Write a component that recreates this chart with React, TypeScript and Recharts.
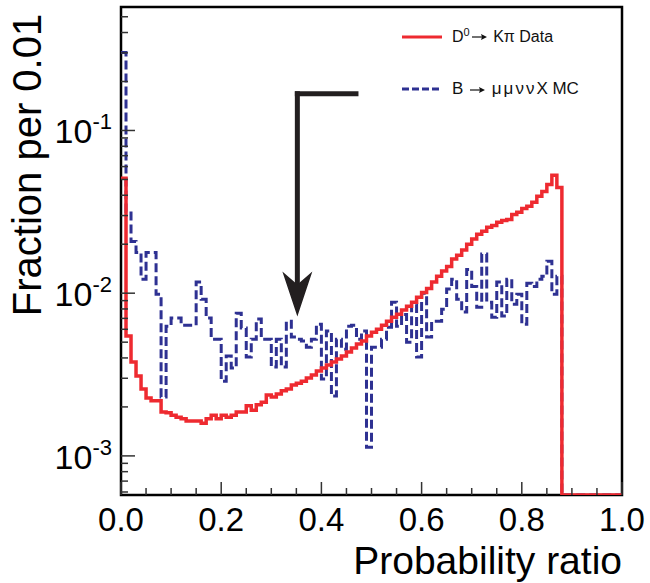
import {
  LineChart,
  Line,
  XAxis,
  YAxis,
  ReferenceArea,
  ReferenceLine,
  ReferenceDot,
  Legend,
  Label,
} from "recharts";

const FONT = "'Liberation Sans', Arial, Helvetica, sans-serif";
const RED = "#ee2a30";
const BLUE = "#2e3192";
const INK = "#231f20";

const BIN_WIDTH = 0.01;

// D0 -> K pi data, fraction per 0.01 bin (bins start at 0.00, 0.01, ... 0.99)
const kpiData = [
  0.0508, 0.00545, 0.00377, 0.0031, 0.00258, 0.00227, 0.00218, 0.00218, 0.00186, 0.00184,
  0.00178, 0.00173, 0.00169, 0.00164, 0.00164, 0.00164, 0.00159, 0.00169, 0.00178, 0.00169,
  0.00178, 0.00173, 0.00178, 0.00186, 0.00186, 0.00203, 0.00191, 0.00206, 0.00214, 0.00237,
  0.0023, 0.0024, 0.00251, 0.00258, 0.00273, 0.0028, 0.00288, 0.00301, 0.00314, 0.00332,
  0.00347, 0.00362, 0.00377, 0.00394, 0.00411, 0.00435, 0.0046, 0.00487, 0.00508, 0.00545,
  0.00576, 0.00601, 0.00636, 0.00673, 0.00712, 0.00743, 0.00787, 0.00832, 0.00881, 0.00945,
  0.0101, 0.0107, 0.0117, 0.0127, 0.0137, 0.0146, 0.0162, 0.0171, 0.0184, 0.02,
  0.0215, 0.023, 0.024, 0.0254, 0.0261, 0.0273, 0.028, 0.0284, 0.0305, 0.0314,
  0.0332, 0.0342, 0.0362, 0.0394, 0.0422, 0.0466, 0.053, 0.0447, 0, 0,
  0, 0, 0, 0, 0, 0, 0, 0, 0, 0,
];

// B -> mu mu nu nu X MC
const mcData = [
  0.301, 0.0318, 0.0208, 0.0178, 0.0122, 0.0178, 0.0178, 0.00986, 0.0023, 0.00627,
  0.00703, 0.00703, 0.00636, 0.00636, 0.00636, 0.0117, 0.00919, 0.00703, 0.00522, 0.00522,
  0.00288, 0.00411, 0.00347, 0.00754, 0.0061, 0.00405, 0.00522, 0.00693, 0.00522, 0.00522,
  0.00352, 0.00522, 0.00352, 0.00673, 0.00537, 0.00522, 0.00508, 0.00466, 0.00522, 0.00645,
  0.00297, 0.00585, 0.00233, 0.00522, 0.00453, 0.00627, 0.00636, 0.00522, 0.00585, 0.00113,
  0.00466, 0.00466, 0.00522, 0.00618, 0.00881, 0.00627, 0.0074, 0.005, 0.00856, 0.00405,
  0.01, 0.00537, 0.00673, 0.00673, 0.00798, 0.0106, 0.0122, 0.00919, 0.00765, 0.014,
  0.011, 0.0082, 0.0174, 0.00881, 0.00712, 0.0117, 0.00723, 0.0122, 0.00856, 0.00986,
  0.00645, 0.0115, 0.011, 0.0122, 0.0127, 0.0157, 0.00986, 0.0127, 0, 0,
  0, 0, 0, 0, 0, 0, 0, 0, 0, 0,
];

const xTicks = [
  0, 0.05, 0.1, 0.15, 0.2, 0.25, 0.3, 0.35, 0.4, 0.45, 0.5,
  0.55, 0.6, 0.65, 0.7, 0.75, 0.8, 0.85, 0.9, 0.95, 1,
];
const xMajor = [0, 0.2, 0.4, 0.6, 0.8, 1];

const yTicks = [
  0.0006, 0.0007, 0.0008, 0.0009, 0.001, 0.002, 0.003, 0.004, 0.005, 0.006, 0.007, 0.008, 0.009,
  0.01, 0.02, 0.03, 0.04, 0.05, 0.06, 0.07, 0.08, 0.09, 0.1, 0.2, 0.3, 0.4, 0.5,
];
const yMajor = [0.001, 0.01, 0.1];

const Y_MIN = 0.000575;
const Y_MAX = 0.574;

// cut arrow
const cutX = 0.352;
const cutEndX = 0.469;
const cutTop = 0.168;
const cutShaftEnd = 0.0115;
const cutTip = 0.0072;

const table = kpiData.map((v, i) => ({
  x: +(i * BIN_WIDTH).toFixed(2),
  kpi: v > 0 ? v : Y_MIN,
  mc: mcData[i] > 0 ? mcData[i] : Y_MIN,
}));
table.push({ x: 1, kpi: table[table.length - 1].kpi, mc: table[table.length - 1].mc });

const XTick = (props: any) => {
  const { x, y, payload } = props;
  const v = payload.value;
  const major = xMajor.some((m) => Math.abs(m - v) < 1e-6);
  return (
    <g>
      <line x1={x} x2={x} y1={y} y2={y - (major ? 13 : 7)} stroke="#333" strokeWidth={1.5} />
      {major && (
        <text x={x} y={y + 36} textAnchor="middle" fontSize={33} fontFamily={FONT} fill="#000">
          {v.toFixed(1)}
        </text>
      )}
    </g>
  );
};

const YTick = (props: any) => {
  const { x, y, payload } = props;
  const v = payload.value;
  const major = yMajor.some((m) => Math.abs(m - v) / m < 1e-6);
  const exp = Math.round(Math.log10(v));
  return (
    <g>
      <line x1={x} x2={x + (major ? 14 : 7)} y1={y} y2={y} stroke="#333" strokeWidth={1.5} />
      {major && (
        <text x={x - 9} y={y + 13} textAnchor="end" fontSize={34} fontFamily={FONT} fill="#000">
          10
          <tspan dy={-14} fontSize={22}>
            {exp}
          </tspan>
        </text>
      )}
    </g>
  );
};

const XTitle = (props: any) => {
  const vb = props.viewBox || { x: 121, y: 495, width: 501 };
  return (
    <text x={vb.x + vb.width} y={vb.y + 79} textAnchor="end" fontSize={39} fontFamily={FONT} fill="#000">
      Probability ratio
    </text>
  );
};

const YTitle = (props: any) => {
  const vb = props.viewBox || { x: 0, y: 7, width: 121, height: 488 };
  const cx = vb.x + 41;
  const cy = vb.y + 158;
  return (
    <text
      x={cx}
      y={cy}
      transform={`rotate(-90 ${cx} ${cy})`}
      textAnchor="middle"
      fontSize={40}
      fontFamily={FONT}
      fill="#000"
    >
      Fraction per 0.01
    </text>
  );
};

const ArrowHead = (props: any) => {
  const { cx, cy } = props;
  if (cx == null || cy == null) return null;
  return (
    <path
      d={`M${cx},${cy} L${cx - 15},${cy - 45} L${cx},${cy - 32} L${cx + 15},${cy - 45} Z`}
      fill={INK}
    />
  );
};

// small right arrow used in the legend entries
const TextArrow = () => (
  <svg width={15} height={10} style={{ margin: "0 2px", verticalAlign: "middle" }}>
    <line x1={0} x2={11} y1={5} y2={5} stroke="#111" strokeWidth={1.2} />
    <path d="M15,5 L9,2 L10,5 L9,8 Z" fill="#111" />
  </svg>
);

const LegendBox = () => (
  <div style={{ fontFamily: FONT, color: "#111", lineHeight: "20px", whiteSpace: "nowrap" }}>
    <div style={{ display: "flex", alignItems: "center", height: 20, fontSize: 16 }}>
      <svg width={40} height={6}>
        <line x1={0} x2={40} y1={3} y2={3} stroke={RED} strokeWidth={3} />
      </svg>
      <span style={{ marginLeft: 10 }}>
        D<span style={{ fontSize: 11, position: "relative", top: -6 }}>0</span>
        <TextArrow /> Kπ Data
      </span>
    </div>
    <div style={{ display: "flex", alignItems: "center", height: 20, marginTop: 32, fontSize: 17 }}>
      <svg width={40} height={6}>
        <line x1={0} x2={40} y1={3} y2={3} stroke={BLUE} strokeWidth={3} strokeDasharray="7 3" />
      </svg>
      <span style={{ marginLeft: 10 }}>
        B <TextArrow /> <span style={{ letterSpacing: 2 }}>μμνν</span>X MC
      </span>
    </div>
  </div>
);

export default function App() {
  return (
    <div style={{ position: "absolute", left: 0, top: 0, background: "#fff" }}>
      <LineChart
        width={650}
        height={583}
        data={table}
        margin={{ top: 7, right: 28, bottom: 0, left: 0 }}
      >
        <XAxis
          dataKey="x"
          type="number"
          domain={[0, 1]}
          ticks={xTicks}
          interval={0}
          tick={<XTick />}
          tickSize={0}
          tickMargin={0}
          tickLine={false}
          axisLine={false}
          height={88}
          allowDataOverflow
        >
          <Label content={<XTitle />} />
        </XAxis>
        <YAxis
          type="number"
          scale="log"
          domain={[Y_MIN, Y_MAX]}
          ticks={yTicks}
          interval={0}
          tick={<YTick />}
          tickSize={0}
          tickMargin={0}
          tickLine={false}
          axisLine={false}
          width={121}
          allowDataOverflow
        >
          <Label content={<YTitle />} />
        </YAxis>
        <ReferenceArea
          x1={0}
          x2={1}
          y1={Y_MIN}
          y2={Y_MAX}
          fill="none"
          fillOpacity={0}
          stroke="#000"
          strokeWidth={2.5}
        />
        <Line
          dataKey="mc"
          type="stepAfter"
          stroke={BLUE}
          strokeWidth={3}
          strokeDasharray="9 4"
          dot={false}
          isAnimationActive={false}
        />
        <Line
          dataKey="kpi"
          type="stepAfter"
          stroke={RED}
          strokeWidth={3.5}
          dot={false}
          isAnimationActive={false}
        />
        <ReferenceLine
          segment={[
            { x: cutX, y: cutTop },
            { x: cutEndX, y: cutTop },
          ]}
          stroke={INK}
          strokeWidth={5}
          strokeLinecap="square"
        />
        <ReferenceLine
          segment={[
            { x: cutX, y: cutTop },
            { x: cutX, y: cutShaftEnd },
          ]}
          stroke={INK}
          strokeWidth={5}
          strokeLinecap="square"
        />
        <ReferenceDot x={cutX} y={cutTip} r={1} shape={<ArrowHead />} />
        <Legend
          layout="vertical"
          align="center"
          verticalAlign="middle"
          content={<LegendBox />}
          wrapperStyle={{ position: "absolute", top: 27, left: 402, width: 230, height: 80 }}
        />
      </LineChart>
    </div>
  );
}
